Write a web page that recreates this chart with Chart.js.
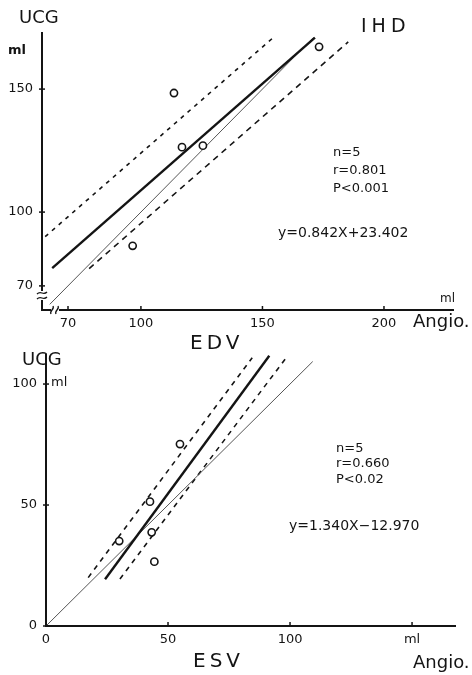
<!DOCTYPE html>
<html>
<head>
<meta charset="utf-8">
<script src="https://cdn.jsdelivr.net/npm/chart.js@4/dist/chart.umd.min.js"></script>
<style>
body { margin: 0; background: #fff; }
#wrap { position: relative; width: 472px; height: 675px; }
canvas { position: absolute; left: 0; top: 0; }
</style>
</head>
<body>
<div id="wrap">
  <canvas id="edv" width="472" height="675"></canvas>
  <canvas id="esv" width="472" height="675"></canvas>
</div>
<script>
// EDV panel (IHD)
var edvX = [96.6, 113.6, 116.9, 125.5, 173.3]
var edvY = [86.3, 148.4, 126.4, 127.0, 167.2]
var edvRegX = [63.5, 171.6], edvRegY = [77.2, 170.9]
var edvIdX = [62.5, 171.0], edvIdY = [62.5, 171.0]
var edvUpX = [60.6, 154.4], edvUpY = [90.0, 170.9]
var edvLoX = [78.7, 185.3], edvLoY = [77.0, 169.2]
var edvXTicks = [70, 100, 150, 200]
var edvYTicks = [70, 100, 150]

// ESV panel
var esvX = [30.0, 42.6, 43.3, 44.4, 54.9]
var esvY = [35.1, 51.4, 38.7, 26.6, 75.2]
var esvRegX = [24.2, 91.5], esvRegY = [19.3, 111.7]
var esvIdX = [0, 109.3], esvIdY = [0, 109.3]
var esvUpX = [17.3, 84.5], esvUpY = [20.0, 110.9]
var esvLoX = [30.3, 98.2], esvLoY = [19.4, 110.6]
var esvXTicks = [0, 50, 100, 150]
var esvYTicks = [0, 50, 100]

var ink = "#141414"
var face = "'DejaVu Sans', sans-serif"

function pts(xs, ys) {
    return xs.map((x, i) => ({ x: x, y: ys[i] }))
}

function lineSet(xs, ys, width, color, dash) {
    return {
        data: pts(xs, ys), showLine: true, pointRadius: 0,
        borderColor: color, borderWidth: width, borderDash: dash || [], order: 2
    }
}

function pointSet(xs, ys) {
    return {
        data: pts(xs, ys), pointRadius: 3.6, pointBorderWidth: 1.6,
        pointBorderColor: ink, pointBackgroundColor: "#fff", order: 0
    }
}

// tick marks, break marks and free text
const decor = {
    id: "decor",
    afterDraw(chart, args, opts) {
        const ctx = chart.ctx, a = chart.chartArea
        const xs = chart.scales.x, ys = chart.scales.y
        ctx.save()
        ctx.strokeStyle = ink
        ctx.lineWidth = 1.5
        opts.xTicks.forEach(v => {
            let px = xs.getPixelForValue(v)
            ctx.beginPath(); ctx.moveTo(px, a.bottom); ctx.lineTo(px, a.bottom - 4); ctx.stroke()
        })
        opts.yTicks.forEach(v => {
            let py = ys.getPixelForValue(v)
            ctx.beginPath(); ctx.moveTo(a.left - 3, py); ctx.lineTo(a.left + 3, py); ctx.stroke()
        })
        if (opts.breaks) {
            ctx.fillStyle = "#fff"
            ctx.fillRect(a.left - 3, a.bottom - 19, 7, 9)
            ctx.fillRect(a.left + 9, a.bottom - 3, 8, 7)
            ctx.lineWidth = 1.3
            ;[-17, -12].forEach(d => {
                ctx.beginPath()
                ctx.moveTo(a.left - 5, a.bottom + d + 1)
                ctx.bezierCurveTo(a.left - 1, a.bottom + d - 3, a.left + 1, a.bottom + d + 3, a.left + 5, a.bottom + d - 1)
                ctx.stroke()
            })
            ;[10, 15].forEach(d => {
                ctx.beginPath()
                ctx.moveTo(a.left + d - 1, a.bottom + 4)
                ctx.bezierCurveTo(a.left + d - 3, a.bottom + 1, a.left + d + 3, a.bottom - 1, a.left + d + 1, a.bottom - 4)
                ctx.stroke()
            })
        }
        ctx.fillStyle = ink
        ctx.textBaseline = "middle"
        opts.labels.forEach(l => {
            ctx.font = (l.w || "normal") + " " + l.s + "px " + face
            ctx.letterSpacing = (l.sp || 0) + "px"
            ctx.textAlign = "left"
            ctx.fillText(l.t, l.x, l.y)
        })
        ctx.restore()
    }
}

function makeChart(id, sets, cfg) {
    return new Chart(document.getElementById(id), {
        type: "scatter",
        data: { datasets: sets },
        plugins: [decor],
        options: {
            responsive: false,
            animation: false,
            layout: { padding: cfg.pad },
            plugins: {
                legend: { display: false },
                tooltip: { enabled: false },
                decor: { xTicks: cfg.xTicks, yTicks: cfg.yTicks, labels: cfg.labels, breaks: cfg.breaks }
            },
            scales: {
                x: {
                    type: "linear", min: cfg.xMin, max: cfg.xMax,
                    afterBuildTicks: s => { s.ticks = cfg.xTicks.map(v => ({ value: v })) },
                    afterFit: s => { s.height = cfg.xH },
                    grid: { display: false, drawTicks: false },
                    border: { display: true, color: ink, width: 2 },
                    ticks: {
                        color: ink, padding: 6, maxRotation: 0, autoSkip: false,
                        font: { family: face, size: 13 },
                        callback: cfg.xLabel || (v => v)
                    }
                },
                y: {
                    type: "linear", min: cfg.yMin, max: cfg.yMax,
                    afterBuildTicks: s => { s.ticks = cfg.yTicks.map(v => ({ value: v })) },
                    afterFit: s => { s.width = cfg.yW },
                    grid: { display: false, drawTicks: false },
                    border: { display: true, color: ink, width: 2 },
                    ticks: {
                        color: ink, padding: 9,
                        font: { family: face, size: 13 }
                    }
                }
            }
        }
    })
}

makeChart("edv", [
    pointSet(edvX, edvY),
    lineSet(edvRegX, edvRegY, 2.4, ink),
    lineSet(edvIdX, edvIdY, 1, "#555"),
    lineSet(edvUpX, edvUpY, 1.6, ink, [4, 5]),
    lineSet(edvLoX, edvLoY, 1.6, ink, [6, 5])
], {
    pad: { top: 33, right: 19, bottom: 0, left: 0 },
    xMin: 59.3, xMax: 228.4, yMin: 60.2, yMax: 172.8,
    xH: 365, yW: 42,
    xTicks: edvXTicks, yTicks: edvYTicks, breaks: true,
    labels: [
        { t: "UCG", x: 19, y: 18, s: 18 },
        { t: "ml", x: 8, y: 51, s: 13, w: "bold" },
        { t: "IHD", x: 361, y: 27, s: 19, sp: 5 },
        { t: "n=5", x: 333, y: 153, s: 13 },
        { t: "r=0.801", x: 333, y: 171, s: 13 },
        { t: "P<0.001", x: 333, y: 189, s: 13 },
        { t: "y=0.842X+23.402", x: 278, y: 233, s: 14 },
        { t: "ml", x: 440, y: 299, s: 12 },
        { t: "Angio.", x: 413, y: 322, s: 18 },
        { t: "EDV", x: 190, y: 344, s: 20, sp: 4 }
    ]
})

makeChart("esv", [
    pointSet(esvX, esvY),
    lineSet(esvRegX, esvRegY, 2.4, ink),
    lineSet(esvIdX, esvIdY, 1, "#555"),
    lineSet(esvUpX, esvUpY, 1.6, ink, [5, 5]),
    lineSet(esvLoX, esvLoY, 1.6, ink, [5, 5])
], {
    pad: { top: 355, right: 17, bottom: 0, left: 0 },
    xMin: 0, xMax: 167.6, yMin: 0, yMax: 112,
    xH: 49, yW: 46,
    xTicks: esvXTicks, yTicks: esvYTicks, breaks: false,
    xLabel: v => (v == 150 ? "ml" : v),
    labels: [
        { t: "UCG", x: 22, y: 360, s: 18 },
        { t: "ml", x: 51, y: 383, s: 13 },
        { t: "n=5", x: 336, y: 449, s: 13 },
        { t: "r=0.660", x: 336, y: 464, s: 13 },
        { t: "P<0.02", x: 336, y: 480, s: 13 },
        { t: "y=1.340X\u221212.970", x: 289, y: 526, s: 14 },
        { t: "ESV", x: 193, y: 662, s: 20, sp: 4 },
        { t: "Angio.", x: 413, y: 663, s: 18 }
    ]
})
</script>
</body>
</html>
